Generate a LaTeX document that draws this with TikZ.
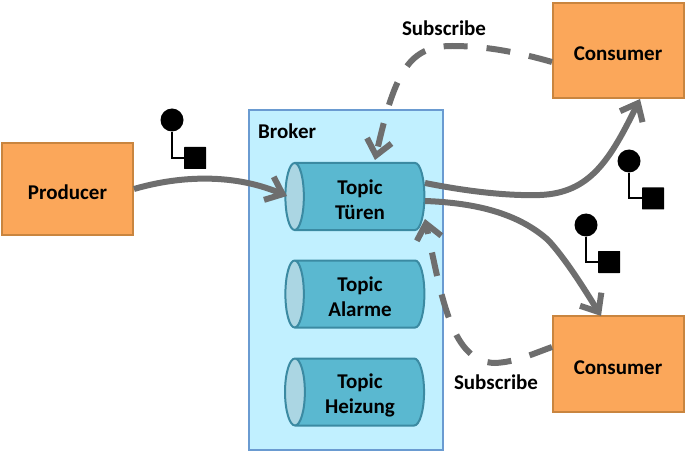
\documentclass[tikz,border=0pt]{standalone}
\usepackage{fontspec}
\setmainfont{Carlito}
\usetikzlibrary{arrows.meta,shapes.geometric}
\definecolor{orangefill}{HTML}{FBA75A}
\definecolor{orangeline}{HTML}{C9853F}
\definecolor{brokerfill}{HTML}{C1F0FF}
\definecolor{brokerline}{HTML}{6A9BD1}
\definecolor{cylfill}{HTML}{5AB8D0}
\definecolor{cylend}{HTML}{ABD6E3}
\definecolor{cylline}{HTML}{3B8AA2}
\definecolor{flowgray}{HTML}{6E6E6E}
\newcommand{\lowstrut}{\rule{0pt}{21pt}}
\tikzset{
  lbl/.style={font=\bfseries\fontsize{21}{25}\selectfont,text=black,align=center,inner sep=0pt},
  boxnode/.style={font=\bfseries\fontsize{21}{25}\selectfont,text=black,inner sep=0pt,draw=orangeline,fill=orangefill,line width=2pt,minimum width=131pt,text depth=0pt},
  brokerbox/.style={draw=brokerline,fill=brokerfill,line width=2pt,minimum width=194pt,minimum height=340pt,inner sep=0pt},
  topic/.style={lbl,shape=cylinder,shape border rotate=180,aspect=0.4,draw=cylline,line width=2pt,
    cylinder uses custom fill,cylinder body fill=cylfill,cylinder end fill=cylend,
    minimum width=67pt,minimum height=139pt},
  flow/.style={draw=flowgray,line width=6pt,-{Straight Barb[length=15pt,width=25pt,line width=6pt]}},
  subflow/.style={flow,dash pattern=on 24pt off 19pt},
  pinline/.style={draw=black,line width=2pt},
  pincircle/.style={circle,fill=black,minimum size=23pt,inner sep=0pt},
  pinsquare/.style={rectangle,fill=black,minimum size=22pt,inner sep=0pt,rounded corners=0.5pt},
}
\begin{document}
\begin{tikzpicture}[x=1pt,y=-1pt]
\useasboundingbox (0,0) rectangle (687,454);
\node[brokerbox] (broker) at (345.5,280) {};
\node[lbl,anchor=west] (brokerlabel) at (258,131) {Broker};
\node[topic] (t1) at (360,196.5) {\lowstrut Topic\\Türen};
\node[topic] (t2) at (360,294) {\lowstrut Topic\\Alarme};
\node[topic] (t3) at (360,392) {\lowstrut Topic\\Heizung};
\node[boxnode,minimum height=92pt,text height=22pt] (prod) at (67.5,189) {Producer};
\node[boxnode,minimum height=95pt,text height=20pt] (c1) at (618,50.5) {Consumer};
\node[boxnode,minimum height=96pt,text height=20pt] (c2) at (618,364) {Consumer};
\node[lbl] (s1) at (444,28) {Subscribe};
\node[lbl] (s2) at (496,382) {Subscribe};
\node[pincircle] (a1) at (172,120) {};
\node[pinsquare] (b1) at (195,158) {};
\draw[pinline] (a1) |- (b1);
\node[pincircle] (a2) at (629,161) {};
\node[pinsquare] (b2) at (653,198.5) {};
\draw[pinline] (a2) |- (b2);
\node[pincircle] (a3) at (586,225) {};
\node[pinsquare] (b3) at (609,262) {};
\draw[pinline] (a3) |- (b3);
% connector end points on the node borders
\coordinate (t1in) at (287,196);
\coordinate (t1out1) at (425,183);
\coordinate (t1out2) at (425,201);
\coordinate (t1top) at (375,160);
\coordinate (t1low) at (425,219);
\coordinate (c1in) at (640,99);
\coordinate (c2in) at (601,316);
\coordinate (c1side) at (552,62);
\coordinate (c2side) at (552,347);
\draw[flow] (prod.east) .. controls (175,177) and (230,172) .. (t1in);
\draw[flow] (t1out1) .. controls (470,192) and (510,196) .. (540,195) .. controls (590,193) and (610,160) .. (c1in);
\draw[flow] (t1out2) .. controls (480,203) and (520,215) .. (548,240) .. controls (565,258) and (585,290) .. (c2in);
\draw[subflow] (c1side) .. controls (510,50) and (480,46) .. (452,46) .. controls (410,46) and (395,70) .. (t1top);
\draw[subflow] (c2side) .. controls (530,355) and (515,362) .. (495,363) .. controls (452,362) and (442,300) .. (t1low);
\end{tikzpicture}
\end{document}
